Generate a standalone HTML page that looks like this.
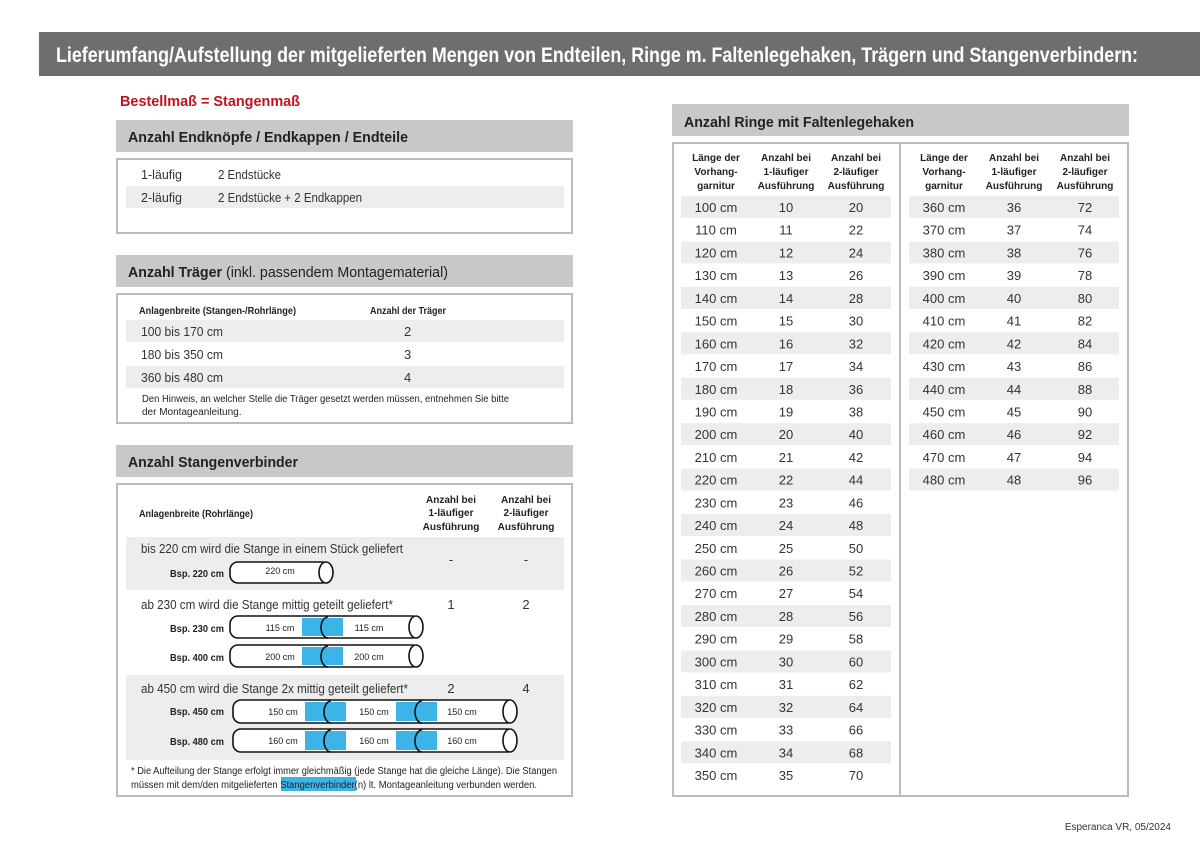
<!DOCTYPE html>
<html><head><meta charset="utf-8"><style>
html,body{margin:0;padding:0;background:#fff;}
svg{display:block;font-family:"Liberation Sans",sans-serif;}
.t{font-size:13px;fill:#333;}
.s{font-size:10px;fill:#222;font-weight:bold;}
.h{font-size:15px;font-weight:bold;fill:#222;}
</style></head><body>
<svg width="1200" height="849" viewBox="0 0 1200 849" xmlns="http://www.w3.org/2000/svg">
<rect x="39" y="32" width="1161" height="44" fill="#6e6e6e"/>
<text x="56" y="62" font-size="21" font-weight="bold" fill="#fff" textLength="1082" lengthAdjust="spacingAndGlyphs">Lieferumfang/Aufstellung der mitgelieferten Mengen von Endteilen, Ringe m. Faltenlegehaken, Trägern und Stangenverbindern:</text>
<text x="120" y="106" font-size="15" font-weight="bold" fill="#c0141c" textLength="180" lengthAdjust="spacingAndGlyphs">Bestellmaß = Stangenmaß</text>

<!-- Section 1 -->
<rect x="116" y="120" width="457" height="32" fill="#c8c8c8"/>
<text x="128" y="142" class="h" textLength="280" lengthAdjust="spacingAndGlyphs">Anzahl Endknöpfe / Endkappen / Endteile</text>
<rect x="117" y="159" width="455" height="74" fill="none" stroke="#bbb" stroke-width="2"/>
<rect x="126" y="186" width="438" height="22" fill="#ededed"/>
<text x="141" y="179" class="t" textLength="41" lengthAdjust="spacingAndGlyphs">1-läufig</text><text x="218" y="179" class="t" textLength="63" lengthAdjust="spacingAndGlyphs">2 Endstücke</text>
<text x="141" y="202" class="t" textLength="41" lengthAdjust="spacingAndGlyphs">2-läufig</text><text x="218" y="202" class="t" textLength="144" lengthAdjust="spacingAndGlyphs">2 Endstücke + 2 Endkappen</text>

<!-- Section 2 -->
<rect x="116" y="255" width="457" height="32" fill="#c8c8c8"/>
<text x="128" y="277" class="h" textLength="320" lengthAdjust="spacingAndGlyphs">Anzahl Träger <tspan font-weight="normal">(inkl. passendem Montagematerial)</tspan></text>
<rect x="117" y="294" width="455" height="129" fill="none" stroke="#bbb" stroke-width="2"/>
<text x="139" y="314" class="s" textLength="157" lengthAdjust="spacingAndGlyphs">Anlagenbreite (Stangen-/Rohrlänge)</text>
<text x="370" y="314" class="s" textLength="76" lengthAdjust="spacingAndGlyphs">Anzahl der Träger</text>
<rect x="126" y="320" width="438" height="22" fill="#ededed"/>
<rect x="126" y="366" width="438" height="22" fill="#ededed"/>
<text x="141" y="336" class="t" textLength="82" lengthAdjust="spacingAndGlyphs">100 bis 170 cm</text><text x="404" y="336" class="t">2</text>
<text x="141" y="359" class="t" textLength="82" lengthAdjust="spacingAndGlyphs">180 bis 350 cm</text><text x="404" y="359" class="t">3</text>
<text x="141" y="382" class="t" textLength="82" lengthAdjust="spacingAndGlyphs">360 bis 480 cm</text><text x="404" y="382" class="t">4</text>
<text x="142" y="402" font-size="10" fill="#222" textLength="367" lengthAdjust="spacingAndGlyphs">Den Hinweis, an welcher Stelle die Träger gesetzt werden müssen, entnehmen Sie bitte</text>
<text x="142" y="415" font-size="10" fill="#222">der Montageanleitung.</text>

<!-- Section 3 -->
<rect x="116" y="445" width="457" height="32" fill="#c8c8c8"/>
<text x="128" y="467" class="h" textLength="170" lengthAdjust="spacingAndGlyphs">Anzahl Stangenverbinder</text>
<rect x="117" y="484" width="455" height="312" fill="none" stroke="#bbb" stroke-width="2"/>
<text x="139" y="517" class="s" textLength="114" lengthAdjust="spacingAndGlyphs">Anlagenbreite (Rohrlänge)</text>
<g class="s" text-anchor="middle">
<text x="451" y="503">Anzahl bei</text><text x="451" y="516">1-läufiger</text><text x="451" y="530">Ausführung</text>
<text x="526" y="503">Anzahl bei</text><text x="526" y="516">2-läufiger</text><text x="526" y="530">Ausführung</text>
</g>
<rect x="126" y="537" width="438" height="53" fill="#ededed"/>
<rect x="126" y="675" width="438" height="85" fill="#ededed"/>
<text x="141" y="553" class="t" textLength="262" lengthAdjust="spacingAndGlyphs">bis 220 cm wird die Stange in einem Stück geliefert</text>
<text x="451" y="564" class="t" text-anchor="middle">-</text><text x="526" y="564" class="t" text-anchor="middle">-</text>
<text x="141" y="609" class="t" textLength="252" lengthAdjust="spacingAndGlyphs">ab 230 cm wird die Stange mittig geteilt geliefert*</text>
<text x="451" y="609" class="t" text-anchor="middle">1</text><text x="526" y="609" class="t" text-anchor="middle">2</text>
<text x="141" y="693" class="t" textLength="267" lengthAdjust="spacingAndGlyphs">ab 450 cm wird die Stange 2x mittig geteilt geliefert*</text>
<text x="451" y="693" class="t" text-anchor="middle">2</text><text x="526" y="693" class="t" text-anchor="middle">4</text>
<g class="s"><text x="170" y="577" textLength="54" lengthAdjust="spacingAndGlyphs">Bsp. 220 cm</text><text x="170" y="632" textLength="54" lengthAdjust="spacingAndGlyphs">Bsp. 230 cm</text><text x="170" y="661" textLength="54" lengthAdjust="spacingAndGlyphs">Bsp. 400 cm</text><text x="170" y="715" textLength="54" lengthAdjust="spacingAndGlyphs">Bsp. 450 cm</text><text x="170" y="745" textLength="54" lengthAdjust="spacingAndGlyphs">Bsp. 480 cm</text></g>
<g fill="#fff" stroke="#111" stroke-width="1.6">
<rect x="230" y="562" width="100" height="21" rx="8"/><ellipse cx="326" cy="572.5" rx="7" ry="10.5"/>
<rect x="230" y="616" width="190" height="22" rx="8"/><ellipse cx="416" cy="627" rx="7" ry="11"/>
<rect x="230" y="645" width="190" height="22" rx="8"/><ellipse cx="416" cy="656" rx="7" ry="11"/>
<rect x="233" y="700" width="282" height="23" rx="8"/><ellipse cx="510" cy="711.5" rx="7" ry="11.5"/>
<rect x="233" y="729" width="282" height="23" rx="8"/><ellipse cx="510" cy="740.5" rx="7" ry="11.5"/>
</g>
<g fill="#3db4e8">
<rect x="302" y="618" width="41" height="18"/><rect x="302" y="647" width="41" height="18"/>
<rect x="305" y="702" width="41" height="19"/><rect x="396" y="702" width="41" height="19"/>
<rect x="305" y="731" width="41" height="19"/><rect x="396" y="731" width="41" height="19"/>
</g>
<g fill="none" stroke="#111" stroke-width="1.6">
<path d="M328 617 a7 10.5 0 0 0 0 21"/><path d="M328 646 a7 10.5 0 0 0 0 21"/>
<path d="M331 701 a7 11 0 0 0 0 22"/><path d="M422 701 a7 11 0 0 0 0 22"/>
<path d="M331 730 a7 11 0 0 0 0 22"/><path d="M422 730 a7 11 0 0 0 0 22"/>
</g>
<g font-size="9" fill="#222" text-anchor="middle">
<text x="280" y="574">220 cm</text>
<text x="280" y="631">115 cm</text><text x="369" y="631">115 cm</text>
<text x="280" y="660">200 cm</text><text x="369" y="660">200 cm</text>
<text x="283" y="715">150 cm</text><text x="374" y="715">150 cm</text><text x="462" y="715">150 cm</text>
<text x="283" y="744">160 cm</text><text x="374" y="744">160 cm</text><text x="462" y="744">160 cm</text>
</g>
<rect x="281" y="777" width="75" height="14" fill="#3db4e8"/>
<text x="131" y="774" font-size="10" fill="#222" textLength="426" lengthAdjust="spacingAndGlyphs">* Die Aufteilung der Stange erfolgt immer gleichmäßig (jede Stange hat die gleiche Länge). Die Stangen</text>
<text x="131" y="788" font-size="10" fill="#222" textLength="406" lengthAdjust="spacingAndGlyphs">müssen mit dem/den mitgelieferten Stangenverbinder(n) lt. Montageanleitung verbunden werden.</text>

<!-- Right -->
<rect x="672" y="104" width="457" height="32" fill="#c8c8c8"/>
<text x="684" y="127" class="h" textLength="230" lengthAdjust="spacingAndGlyphs">Anzahl Ringe mit Faltenlegehaken</text>
<rect x="673" y="143" width="455" height="653" fill="none" stroke="#bbb" stroke-width="2"/>
<line x1="900" y1="143" x2="900" y2="796" stroke="#bbb" stroke-width="2"/>
<g class="s" text-anchor="middle" font-weight="normal" fill="#222">
<text x="716" y="161">Länge der</text><text x="716" y="175">Vorhang-</text><text x="716" y="189">garnitur</text>
<text x="786" y="161">Anzahl bei</text><text x="786" y="175">1-läufiger</text><text x="786" y="189">Ausführung</text>
<text x="856" y="161">Anzahl bei</text><text x="856" y="175">2-läufiger</text><text x="856" y="189">Ausführung</text>
<text x="944" y="161">Länge der</text><text x="944" y="175">Vorhang-</text><text x="944" y="189">garnitur</text>
<text x="1014" y="161">Anzahl bei</text><text x="1014" y="175">1-läufiger</text><text x="1014" y="189">Ausführung</text>
<text x="1085" y="161">Anzahl bei</text><text x="1085" y="175">2-läufiger</text><text x="1085" y="189">Ausführung</text>
</g>
<g fill="#ededed">
<rect x="681" y="196" width="210" height="22"/><rect x="681" y="241.4" width="210" height="22"/><rect x="681" y="286.9" width="210" height="22"/><rect x="681" y="332.3" width="210" height="22"/><rect x="681" y="377.8" width="210" height="22"/><rect x="681" y="423.2" width="210" height="22"/><rect x="681" y="468.6" width="210" height="22"/><rect x="681" y="514.1" width="210" height="22"/><rect x="681" y="559.5" width="210" height="22"/><rect x="681" y="605" width="210" height="22"/><rect x="681" y="650.4" width="210" height="22"/><rect x="681" y="695.8" width="210" height="22"/><rect x="681" y="741.3" width="210" height="22"/>
<rect x="909" y="196" width="210" height="22"/><rect x="909" y="241.4" width="210" height="22"/><rect x="909" y="286.9" width="210" height="22"/><rect x="909" y="332.3" width="210" height="22"/><rect x="909" y="377.8" width="210" height="22"/><rect x="909" y="423.2" width="210" height="22"/><rect x="909" y="468.6" width="210" height="22"/>
</g>
<g class="t" text-anchor="middle" font-size="13.5">
<text x="716" y="212">100 cm</text><text x="786" y="212">10</text><text x="856" y="212">20</text>
<text x="716" y="234.7">110 cm</text><text x="786" y="234.7">11</text><text x="856" y="234.7">22</text>
<text x="716" y="257.4">120 cm</text><text x="786" y="257.4">12</text><text x="856" y="257.4">24</text>
<text x="716" y="280.2">130 cm</text><text x="786" y="280.2">13</text><text x="856" y="280.2">26</text>
<text x="716" y="302.9">140 cm</text><text x="786" y="302.9">14</text><text x="856" y="302.9">28</text>
<text x="716" y="325.6">150 cm</text><text x="786" y="325.6">15</text><text x="856" y="325.6">30</text>
<text x="716" y="348.3">160 cm</text><text x="786" y="348.3">16</text><text x="856" y="348.3">32</text>
<text x="716" y="371">170 cm</text><text x="786" y="371">17</text><text x="856" y="371">34</text>
<text x="716" y="393.8">180 cm</text><text x="786" y="393.8">18</text><text x="856" y="393.8">36</text>
<text x="716" y="416.5">190 cm</text><text x="786" y="416.5">19</text><text x="856" y="416.5">38</text>
<text x="716" y="439.2">200 cm</text><text x="786" y="439.2">20</text><text x="856" y="439.2">40</text>
<text x="716" y="461.9">210 cm</text><text x="786" y="461.9">21</text><text x="856" y="461.9">42</text>
<text x="716" y="484.6">220 cm</text><text x="786" y="484.6">22</text><text x="856" y="484.6">44</text>
<text x="716" y="507.4">230 cm</text><text x="786" y="507.4">23</text><text x="856" y="507.4">46</text>
<text x="716" y="530.1">240 cm</text><text x="786" y="530.1">24</text><text x="856" y="530.1">48</text>
<text x="716" y="552.8">250 cm</text><text x="786" y="552.8">25</text><text x="856" y="552.8">50</text>
<text x="716" y="575.5">260 cm</text><text x="786" y="575.5">26</text><text x="856" y="575.5">52</text>
<text x="716" y="598.2">270 cm</text><text x="786" y="598.2">27</text><text x="856" y="598.2">54</text>
<text x="716" y="621">280 cm</text><text x="786" y="621">28</text><text x="856" y="621">56</text>
<text x="716" y="643.7">290 cm</text><text x="786" y="643.7">29</text><text x="856" y="643.7">58</text>
<text x="716" y="666.4">300 cm</text><text x="786" y="666.4">30</text><text x="856" y="666.4">60</text>
<text x="716" y="689.1">310 cm</text><text x="786" y="689.1">31</text><text x="856" y="689.1">62</text>
<text x="716" y="711.8">320 cm</text><text x="786" y="711.8">32</text><text x="856" y="711.8">64</text>
<text x="716" y="734.6">330 cm</text><text x="786" y="734.6">33</text><text x="856" y="734.6">66</text>
<text x="716" y="757.3">340 cm</text><text x="786" y="757.3">34</text><text x="856" y="757.3">68</text>
<text x="716" y="780">350 cm</text><text x="786" y="780">35</text><text x="856" y="780">70</text>
<text x="944" y="212">360 cm</text><text x="1014" y="212">36</text><text x="1085" y="212">72</text>
<text x="944" y="234.7">370 cm</text><text x="1014" y="234.7">37</text><text x="1085" y="234.7">74</text>
<text x="944" y="257.4">380 cm</text><text x="1014" y="257.4">38</text><text x="1085" y="257.4">76</text>
<text x="944" y="280.2">390 cm</text><text x="1014" y="280.2">39</text><text x="1085" y="280.2">78</text>
<text x="944" y="302.9">400 cm</text><text x="1014" y="302.9">40</text><text x="1085" y="302.9">80</text>
<text x="944" y="325.6">410 cm</text><text x="1014" y="325.6">41</text><text x="1085" y="325.6">82</text>
<text x="944" y="348.3">420 cm</text><text x="1014" y="348.3">42</text><text x="1085" y="348.3">84</text>
<text x="944" y="371">430 cm</text><text x="1014" y="371">43</text><text x="1085" y="371">86</text>
<text x="944" y="393.8">440 cm</text><text x="1014" y="393.8">44</text><text x="1085" y="393.8">88</text>
<text x="944" y="416.5">450 cm</text><text x="1014" y="416.5">45</text><text x="1085" y="416.5">90</text>
<text x="944" y="439.2">460 cm</text><text x="1014" y="439.2">46</text><text x="1085" y="439.2">92</text>
<text x="944" y="461.9">470 cm</text><text x="1014" y="461.9">47</text><text x="1085" y="461.9">94</text>
<text x="944" y="484.6">480 cm</text><text x="1014" y="484.6">48</text><text x="1085" y="484.6">96</text>
</g>
<text x="1171" y="830" font-size="10" fill="#333" text-anchor="end">Esperanca VR, 05/2024</text>
</svg>
</body></html>
